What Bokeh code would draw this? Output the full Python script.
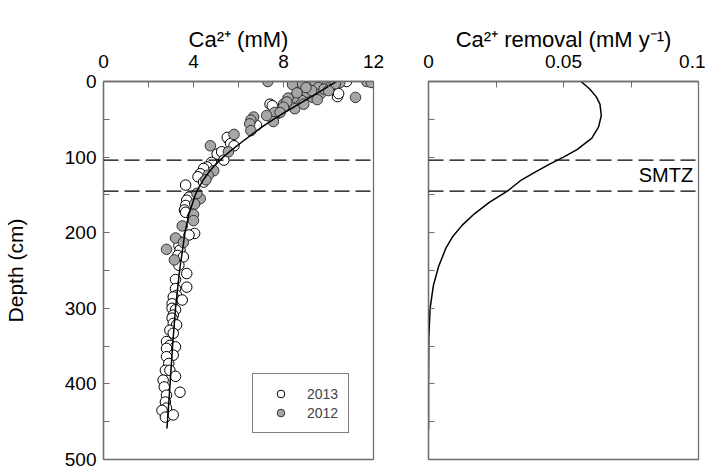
from bokeh.plotting import figure
from bokeh.layouts import row
from bokeh.models import Range1d, FixedTicker, Span, Label
from bokeh.embed import file_html
from bokeh.resources import INLINE

FONT = "Liberation Sans"

# ---- data ----
ca2013_x = [10.8, 10.4, 10.0, 9.6, 10.4, 10.45, 7.4, 7.5, 6.8, 8.7, 5.55, 5.5, 5.65, 5.8, 5.05, 5.25,
            5.35, 4.8, 4.6, 4.45, 4.3, 4.2, 4.45, 3.65, 3.8, 3.7, 3.65, 3.6, 3.65, 3.95, 4.05, 3.8,
            3.4, 3.35, 3.4, 3.3, 3.55, 3.35, 3.7, 3.2, 3.7, 3.2, 3.25, 3.1, 3.5, 3.05, 3.05, 3.2,
            3.1, 3.05, 3.1, 3.25, 2.95, 3.1, 2.8, 2.95, 3.2, 2.8, 3.1, 2.8, 2.9, 2.75, 2.95, 3.2,
            2.65, 2.7, 3.4, 2.8, 2.75, 2.8, 2.6, 2.75, 3.1]
ca2013_depth = [0, 1, 3, 6, 20, 16, 30, 32, 58, 10, 76, 74, 82, 85, 96, 93,
                104, 107, 113, 115, 122, 126, 133, 137, 153, 157, 164, 170, 173, 179, 201, 203,
                212, 217, 223, 230, 232, 243, 254, 262, 272, 274, 283, 285, 289, 294, 300, 302,
                309, 313, 320, 322, 329, 333, 344, 349, 351, 353, 362, 364, 373, 382, 382, 390,
                395, 404, 411, 415, 424, 432, 435, 444, 441]

ca2012_x = [7.3, 8.4, 8.85, 9.4, 9.55, 9.95, 10.1, 10.5, 11.7, 11.9, 11.2, 9.65, 9.3, 9.05, 8.8, 8.45,
            8.5, 8.2, 8.0, 8.15, 8.0, 7.7, 7.6, 7.85, 7.55, 7.25, 9.25, 6.67, 6.55, 6.5, 6.55, 5.8,
            5.55, 4.75, 4.9, 4.65, 4.55, 4.3, 4.15, 4.05, 4.0, 4.0, 3.5, 3.2, 3.55, 2.8, 3.15,
            10.3, 9.8, 9.0, 8.6, 10.0, 9.5, 8.9]
ca2012_depth = [0, 4, 3.5, 0.5, 8, 0, 6, 1.5, 0, 1.3, 21, 16, 21, 14, 25, 21,
                36, 22, 30, 27, 34, 43, 41, 41, 53, 45, 12, 47, 51, 56, 65, 70,
                93, 85, 118, 124, 130, 155, 148, 162, 176, 184, 191, 207, 213, 222, 236,
                3, 10, 8, 15, 12, 24, 30]

fit_depth = [0, 10, 20, 30, 40, 50, 60, 70, 80, 90, 100, 110, 120, 130, 140, 150, 175, 200,
             250, 300, 350, 400, 459]
fit_ca = [10.35, 9.8, 9.24, 8.68, 8.1, 7.55, 7.05, 6.6, 6.15, 5.72, 5.32, 4.97, 4.68, 4.44,
          4.24, 4.08, 3.8, 3.62, 3.38, 3.2, 3.07, 2.96, 2.82]

removal_depth = [0, 10, 20, 30, 45, 60, 75, 90, 100, 110, 120, 130, 145, 160, 175, 190, 205,
                 220, 245, 270, 300, 340, 400, 460]
removal_rate = [0.0565, 0.0597, 0.0621, 0.0635, 0.0640, 0.0630, 0.0605, 0.0550, 0.0500,
                0.0445, 0.0395, 0.0345, 0.0292, 0.0225, 0.0170, 0.0125, 0.0090, 0.0065,
                0.0037, 0.0018, 0.0006, 0.0001, 0.0, 0.0]

smtz_depths = [104, 145]
depth_ticks = [0, 100, 200, 300, 400, 500]
depth_minor = [50, 150, 250, 350, 450]
ca_ticks = [0, 4, 8, 12]
ca_minor = [2, 6, 10]
rem_ticks = [0, 0.05, 0.1]
rem_minor = [0.025, 0.075]

AXIS_COLOR = "#6e6e6e"
FW, FH = 270, 378


def style(p):
    p.grid.visible = False
    p.outline_line_color = AXIS_COLOR
    p.outline_line_width = 1.3
    p.background_fill_color = "white"
    p.border_fill_color = "white"
    for ax in p.axis:
        ax.axis_line_color = AXIS_COLOR
        ax.axis_line_width = 1.3
        ax.major_tick_line_color = AXIS_COLOR
        ax.minor_tick_line_color = AXIS_COLOR
        ax.major_tick_in = 6
        ax.major_tick_out = 0
        ax.minor_tick_in = 6
        ax.minor_tick_out = 0
        ax.major_label_text_font = FONT
        ax.major_label_text_font_size = "19px"
        ax.major_label_text_color = "black"
        ax.axis_label_text_font = FONT
        ax.axis_label_text_font_style = "normal"
        ax.axis_label_text_color = "black"


# ---- left panel ----
p1 = figure(width=398, height=469, frame_width=FW, frame_height=FH,
            x_range=Range1d(0, 12), y_range=Range1d(500, 0),
            x_axis_location="above", output_backend="svg", toolbar_location=None,
            min_border_left=103, min_border_right=25, min_border_top=81, min_border_bottom=10)

for d in smtz_depths:
    p1.add_layout(Span(location=d, dimension="width", line_color="black",
                       line_width=1.2, line_dash="15 6"))

p1.scatter(ca2013_x, ca2013_depth, size=10.5, marker="circle", fill_color="white",
           line_color="black", line_width=1, legend_label="2013")
p1.scatter(ca2012_x, ca2012_depth, size=10.5, marker="circle", fill_color="#a6a6a6",
           line_color="#333333", line_width=1, legend_label="2012")
p1.line(fit_ca, fit_depth, line_color="black", line_width=1.5)

style(p1)
p1.xaxis.ticker = FixedTicker(ticks=ca_ticks, minor_ticks=ca_minor)
p1.yaxis.ticker = FixedTicker(ticks=depth_ticks, minor_ticks=depth_minor)
p1.xaxis.major_label_standoff = 14
p1.xaxis.axis_label = "Ca²⁺ (mM)"
p1.xaxis.axis_label_text_font_size = "22px"
p1.xaxis.axis_label_standoff = 0
p1.yaxis.axis_label = "Depth (cm)"
p1.yaxis.axis_label_text_font_size = "21px"
p1.yaxis.major_label_standoff = 7
p1.yaxis.axis_label_standoff = 35

lg = p1.legend[0]
lg.location = (149, 26)
lg.border_line_color = "black"
lg.border_line_width = 1
lg.padding = 10
lg.spacing = 0
lg.margin = 0
lg.glyph_width = 35
lg.glyph_height = 19
lg.label_height = 19
lg.label_standoff = 9
lg.label_text_font = FONT
lg.label_text_font_size = "14px"
lg.background_fill_alpha = 1

# ---- right panel ----
p2 = figure(width=307, height=469, frame_width=FW, frame_height=FH,
            x_range=Range1d(0, 0.1), y_range=Range1d(500, 0),
            x_axis_location="above", output_backend="svg", toolbar_location=None,
            min_border_left=30, min_border_right=7, min_border_top=81, min_border_bottom=10)

for d in smtz_depths:
    p2.add_layout(Span(location=d, dimension="width", line_color="black",
                       line_width=1.2, line_dash="15 6"))
p2.line(removal_rate, removal_depth, line_color="black", line_width=1.5)
p2.add_layout(Label(x=0.098, y=124, text="SMTZ", text_align="right", text_baseline="middle",
                    text_font=FONT, text_font_size="20px", text_color="black"))

style(p2)
p2.xaxis.ticker = FixedTicker(ticks=rem_ticks, minor_ticks=rem_minor)
p2.xaxis.major_label_overrides = {0: "0", 0.05: "0.05", 0.1: "0.1"}
p2.yaxis.ticker = FixedTicker(ticks=depth_ticks + depth_minor)
p2.yaxis.major_label_overrides = {t_: "" for t_ in depth_ticks + depth_minor}
p2.yaxis.major_label_standoff = 0
p2.xaxis.major_label_standoff = 14
p2.xaxis.axis_label = "Ca²⁺ removal (mM y⁻¹)"
p2.xaxis.axis_label_text_font_size = "22px"
p2.xaxis.axis_label_standoff = 0

layout = row(p1, p2)
open("out.html", "w").write(file_html(layout, INLINE))
